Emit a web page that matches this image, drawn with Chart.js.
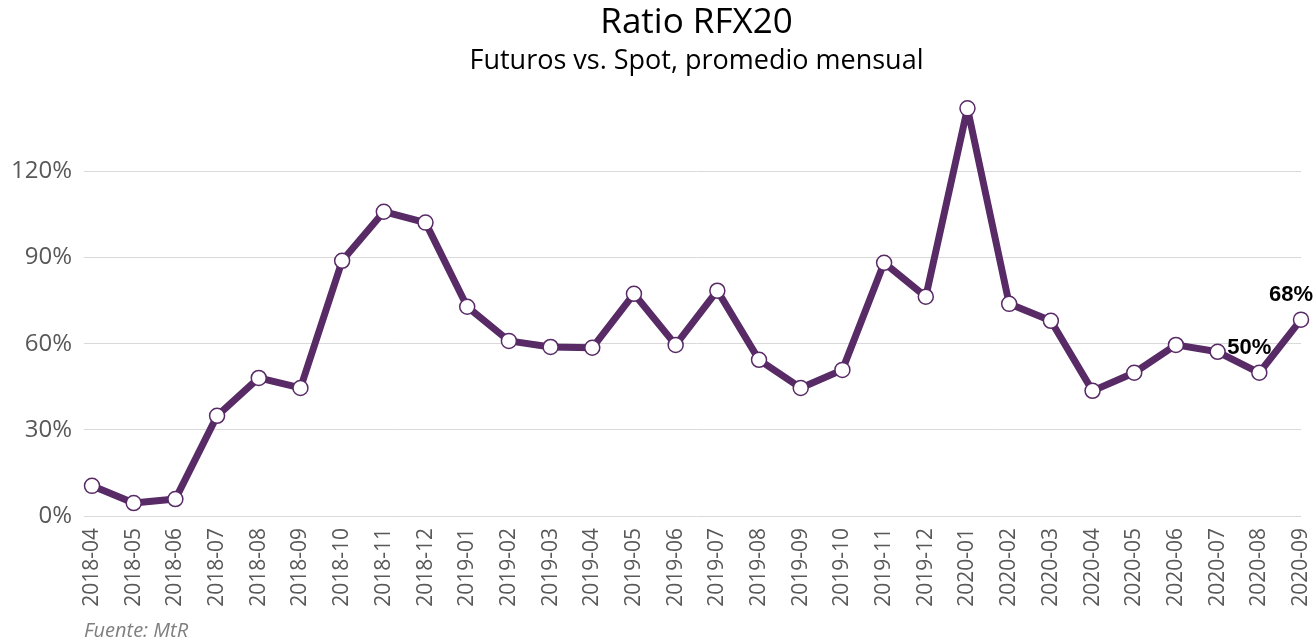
<!DOCTYPE html>
<html>
<head>
<meta charset="utf-8">
<script src="https://cdn.jsdelivr.net/npm/chart.js@4"></script>
<style>
  html, body { margin: 0; padding: 0; background: #fff; }
  #wrap { width: 1315px; height: 644px; position: relative; }
</style>
</head>
<body>
<div id="wrap"><canvas id="chart"></canvas></div>
<script>
// Meses (eje X)
const months = [
  '2018-04', '2018-05', '2018-06', '2018-07', '2018-08', '2018-09', '2018-10', '2018-11', '2018-12',
  '2019-01', '2019-02', '2019-03', '2019-04', '2019-05', '2019-06', '2019-07', '2019-08', '2019-09',
  '2019-10', '2019-11', '2019-12', '2020-01', '2020-02', '2020-03', '2020-04', '2020-05', '2020-06',
  '2020-07', '2020-08', '2020-09'
];

// Ratio futuros / spot (%)
const ratio = [
  10.5, 4.5, 5.9, 34.9, 48.1, 44.6, 88.9, 106.0, 102.2,
  72.9, 61.0, 58.9, 58.6, 77.4, 59.6, 78.5, 54.4, 44.6,
  50.9, 88.2, 76.4, 142.0, 73.9, 68.0, 43.6, 49.9, 59.6,
  57.2, 49.9, 68.4
];

// puntos con etiqueta
const labelled = [28, 29];

const yTicks = [0, 30, 60, 90, 120];

const purple = '#582a66';
const gray = '#595959';

// etiquetas de valor + fuente
const extras = {
  id: 'extras',
  afterDatasetsDraw(chart) {
    const { ctx } = chart;
    const meta = chart.getDatasetMeta(0);
    ctx.save();
    ctx.fillStyle = '#000';
    ctx.font = 'bold 22px "Liberation Sans", Arial, sans-serif';
    ctx.textAlign = 'center';
    ctx.textBaseline = 'middle';
    labelled.forEach(i => {
      const pt = meta.data[i];
      ctx.fillText(Math.round(ratio[i]) + '%', pt.x - 10, pt.y - 25);
    });
    ctx.fillStyle = '#7f7f7f';
    ctx.font = 'italic 20px "Open Sans", sans-serif';
    ctx.textAlign = 'left';
    ctx.textBaseline = 'alphabetic';
    ctx.fillText('Fuente: MtR', 84, 637);
    ctx.restore();
  }
};

new Chart(document.getElementById('chart'), {
  type: 'line',
  data: {
    labels: months,
    datasets: [{
      data: ratio,
      borderColor: purple,
      borderWidth: 7,
      borderJoinStyle: 'round',
      tension: 0,
      pointRadius: 7.5,
      pointHoverRadius: 7.5,
      pointBackgroundColor: '#fff',
      pointBorderColor: purple,
      pointBorderWidth: 1.5
    }]
  },
  options: {
    responsive: true,
    maintainAspectRatio: false,
    animation: false,
    layout: { padding: { left: 0, right: 0, top: 2, bottom: 36 } },
    plugins: {
      legend: { display: false },
      tooltip: { enabled: false },
      title: {
        display: true,
        text: 'Ratio RFX20',
        fullSize: false,
        color: '#000',
        font: { family: '"Open Sans", sans-serif', size: 35, weight: 'normal' },
        padding: { top: 0, bottom: 1 }
      },
      subtitle: {
        display: true,
        text: 'Futuros vs. Spot, promedio mensual',
        fullSize: false,
        color: '#000',
        font: { family: '"Open Sans", sans-serif', size: 27, weight: 'normal' },
        padding: { top: 0, bottom: 8 }
      }
    },
    scales: {
      x: {
        offset: false,
        grid: { display: false },
        border: { display: false },
        ticks: {
          color: gray,
          font: { family: '"Open Sans", sans-serif', size: 21 },
          minRotation: 90,
          maxRotation: 90,
          autoSkip: false,
          padding: 4
        },
        afterFit(scale) {
          scale.height = 92;
          scale.paddingRight = 14;
          scale.paddingLeft = 0;
        }
      },
      y: {
        min: 0,
        max: 150,
        afterBuildTicks(scale) { scale.ticks = yTicks.map(v => ({ value: v })); },
        grid: { color: '#d9d9d9', lineWidth: 1, tickLength: 8 },
        border: { display: false },
        ticks: {
          color: gray,
          font: { family: '"Open Sans", sans-serif', size: 24 },
          padding: 12,
          callback: v => v + '%'
        },
        afterFit(scale) { scale.width = 92; }
      }
    }
  },
  plugins: [extras]
});
</script>
</body>
</html>
